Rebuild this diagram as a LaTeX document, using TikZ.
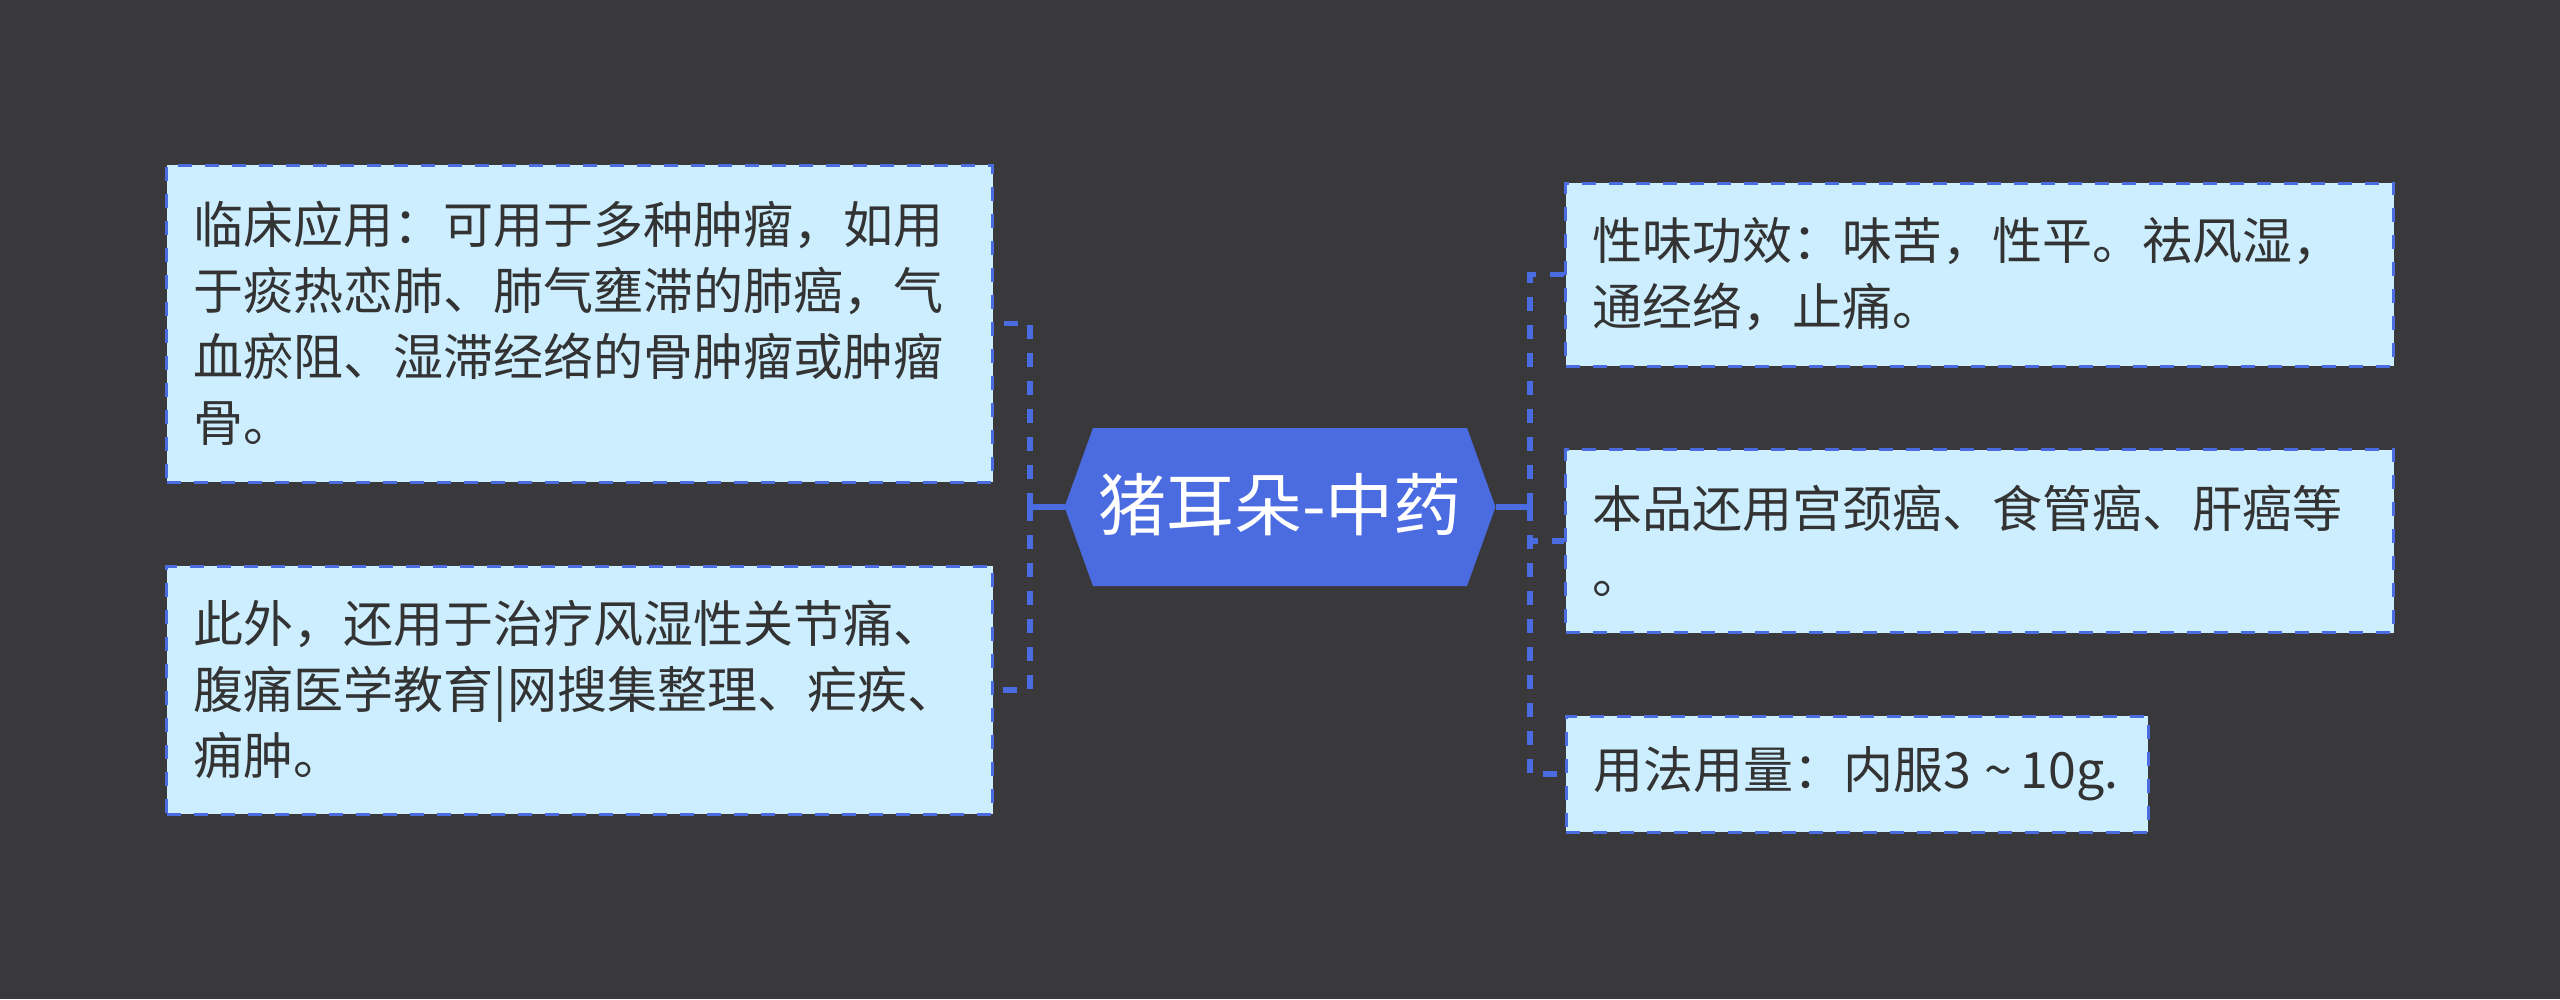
\documentclass[tikz,border=0pt]{standalone}
\usepackage{fontspec}
\newfontfamily\cjk{Noto Sans CJK SC}
\definecolor{bg}{RGB}{57,56,58}
\definecolor{boxfill}{RGB}{204,238,255}
\definecolor{boxline}{RGB}{74,108,224}
\definecolor{hexfill}{RGB}{75,108,224}
\definecolor{txt}{RGB}{51,51,51}
\tikzset{
  leaf/.style={draw=boxline, line width=3pt, dash pattern=on 14pt off 13pt,
    fill=boxfill, rectangle, inner xsep=27pt, inner ysep=0pt, align=left,
    text=txt, font=\cjk\fontsize{50pt}{66pt}\selectfont},
  conn/.style={draw=boxline, line width=5.5pt, dash pattern=on 14pt off 14pt},
  solidconn/.style={draw=boxline, line width=5.5pt},
}
\begin{document}
\begin{tikzpicture}[x=1pt,y=-1pt]
\fill[bg] (0,0) rectangle (2560,999);
\useasboundingbox (0,0) rectangle (2560,999);

% central topic
\fill[hexfill] (1064.5,507) -- (1093,428) -- (1467,428) -- (1495.5,507) -- (1467,586) -- (1093,586) -- cycle;
\node[text=white, font=\cjk\fontsize{68pt}{80pt}\selectfont, inner sep=0pt] (c) at (1280,505) {猪耳朵-中药};
\coordinate (cl) at (1064.5,507);
\coordinate (cr) at (1495.5,507);
\coordinate (jl) at (1030,507);
\coordinate (jr) at (1530,507);

% left nodes
\node[leaf, text width=772pt, minimum height=317pt] (l1) at (579.5,323.5)
  {临床应用：可用于多种肿瘤，如用\\于痰热恋肺、肺气壅滞的肺癌，气\\血瘀阻、湿滞经络的骨肿瘤或肿瘤\\骨。};
\node[leaf, text width=772pt, minimum height=248pt] (l2) at (579.5,690)
  {此外，还用于治疗风湿性关节痛、\\腹痛医学教育|网搜集整理、疟疾、\\痈肿。};

% right nodes
\node[leaf, text width=774pt, minimum height=183pt] (r1) at (1979.5,274.5)
  {性味功效：味苦，性平。祛风湿，\\通经络，止痛。};
\node[leaf, text width=774pt, minimum height=183pt] (r2) at (1979.5,541)
  {本品还用宫颈癌、食管癌、肝癌等\\。};
\node[leaf, text width=528pt, minimum height=116pt] (r3) at (1857,774)
  {\mbox{用法用量：内服3\hspace{14pt}\textasciitilde\hspace{8pt}10g.}};

% connectors
\draw[solidconn] (cl) -- (jl);
\draw[solidconn] (cr) -- (jr);
\draw[conn] (jl) |- (l1.east);
\draw[conn] (jl) |- (l2.east);
\draw[conn] (jr) |- (r1.west);
\draw[conn] (jr) |- (r2.west);
\draw[conn] (jr) |- (r3.west);
\end{tikzpicture}
\end{document}
